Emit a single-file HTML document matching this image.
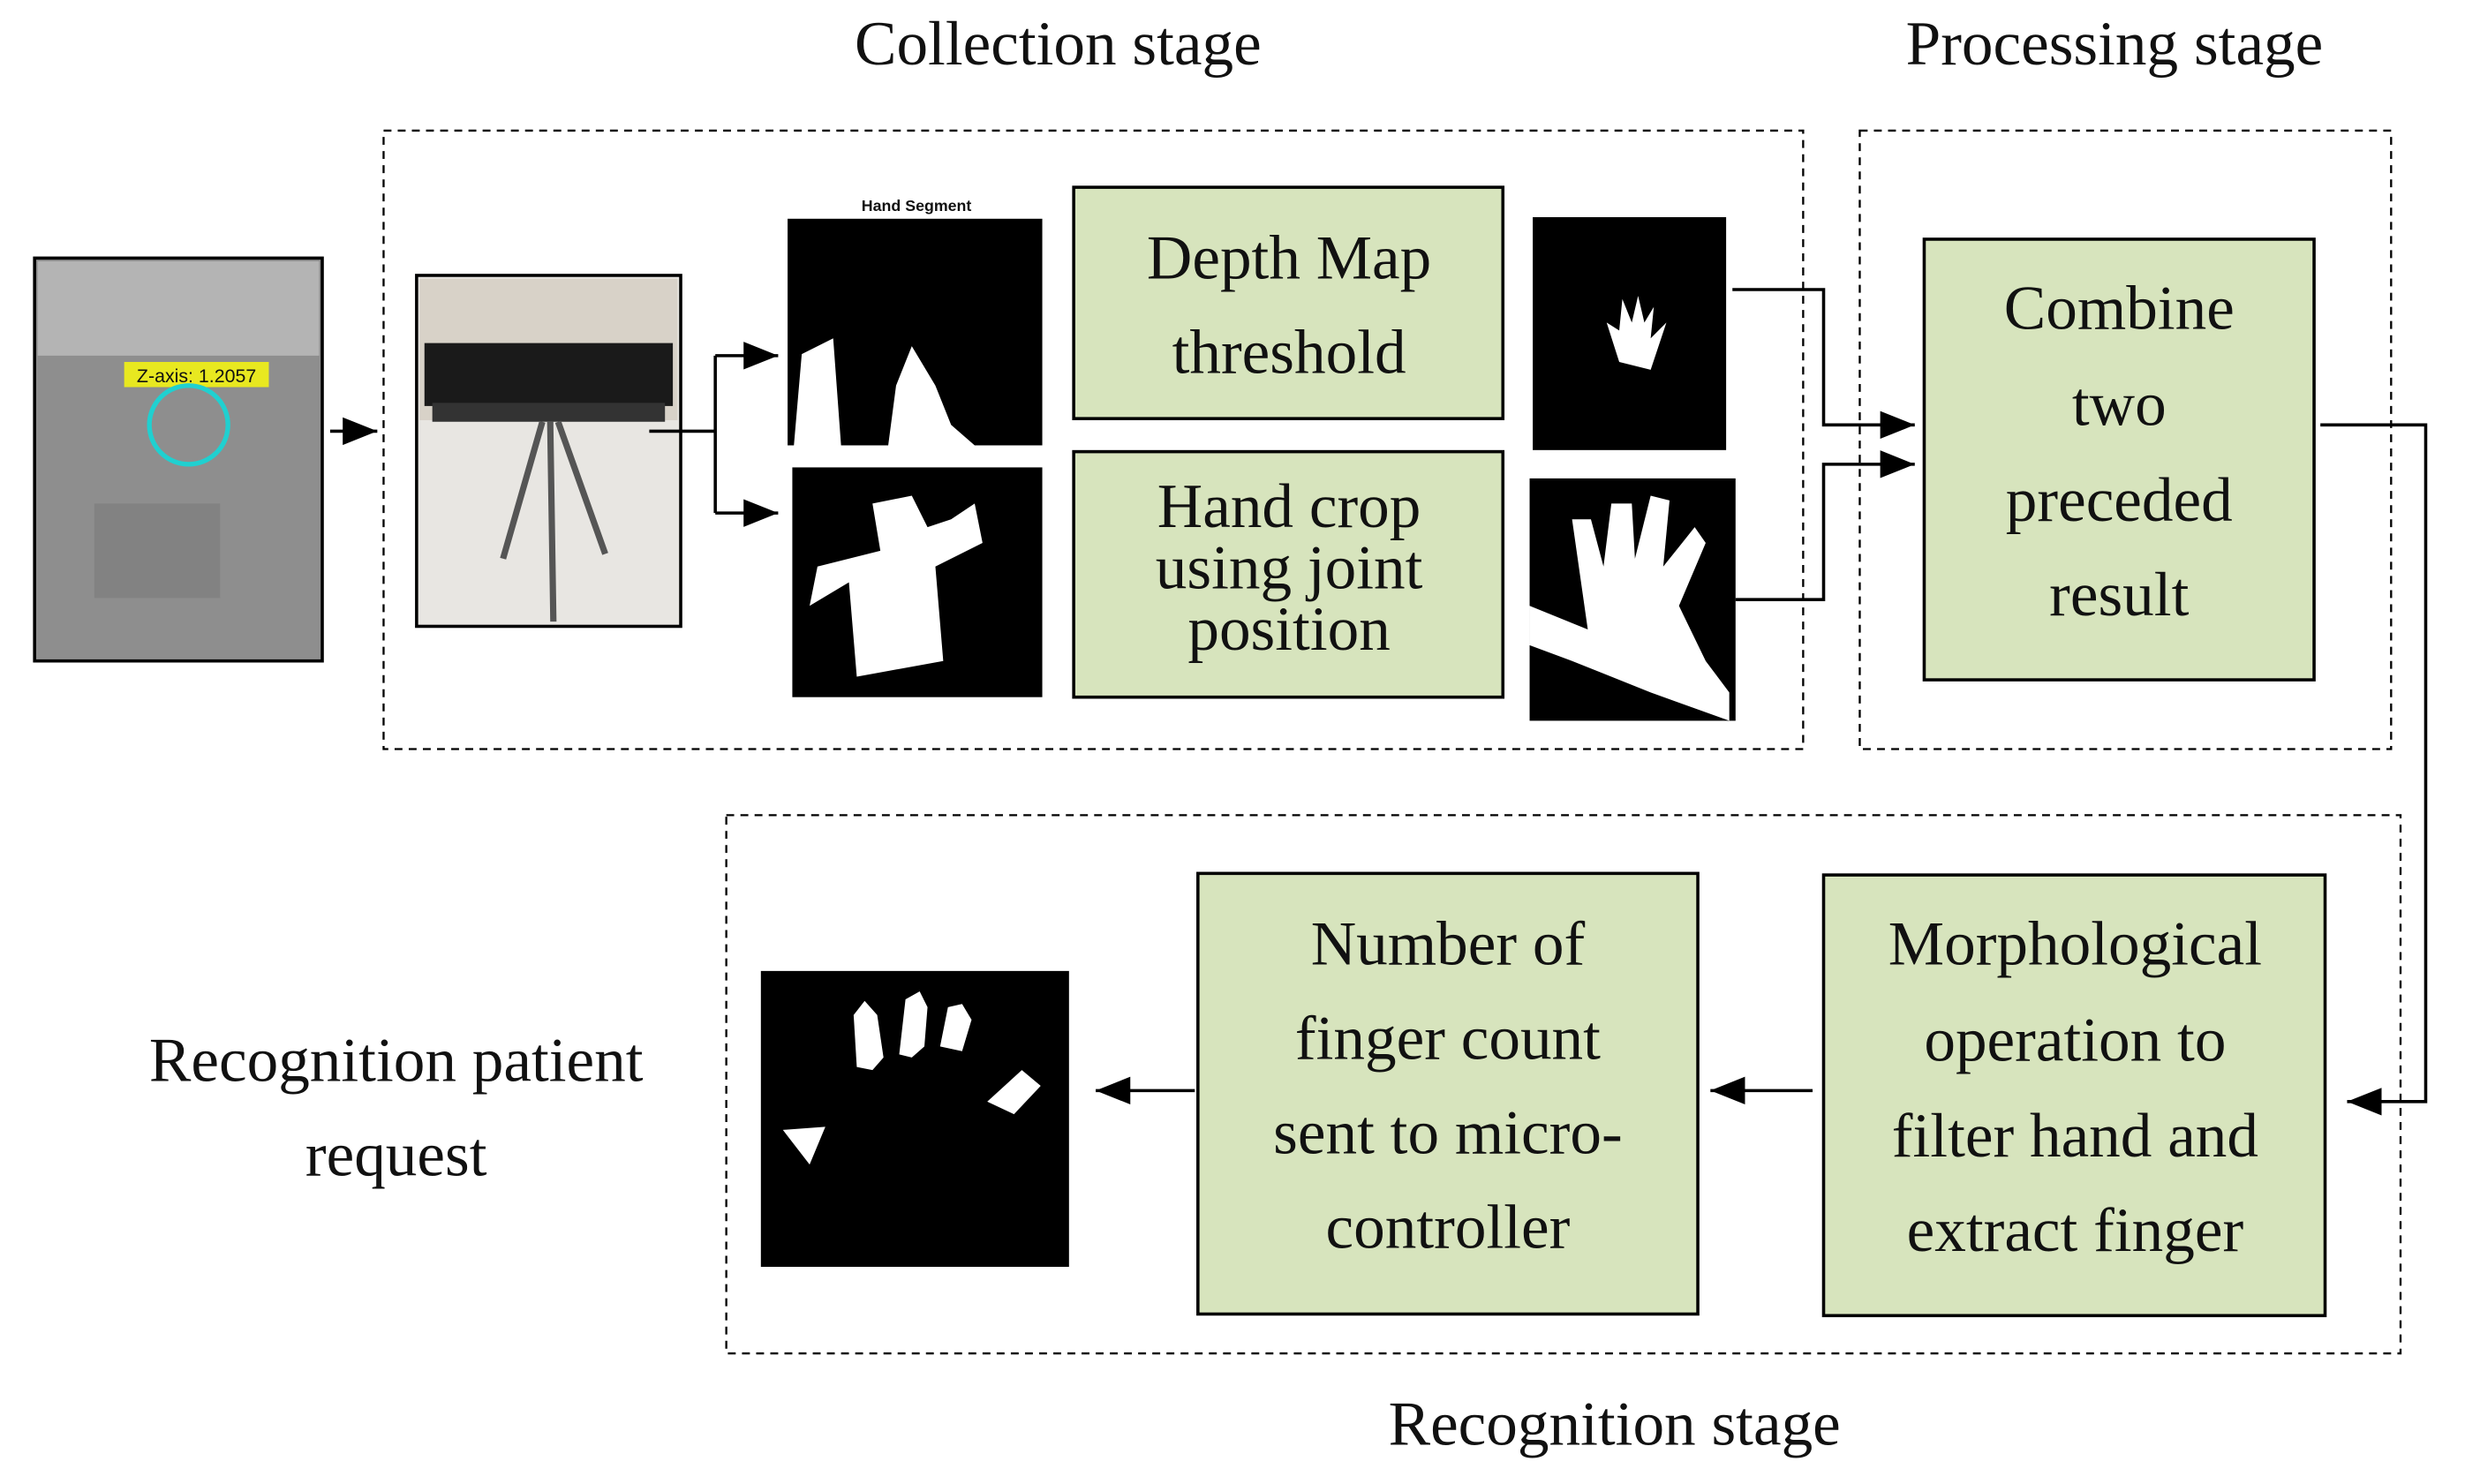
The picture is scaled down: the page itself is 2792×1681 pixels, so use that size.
<!DOCTYPE html>
<html><head><meta charset="utf-8"><style>
html,body{margin:0;padding:0;background:#fff;}
svg{display:block;}
text{font-family:"Liberation Serif",serif;fill:#111;}
</style></head><body>
<svg width="2792" height="1681" viewBox="0 0 1568 943" preserveAspectRatio="none" xmlns="http://www.w3.org/2000/svg">
<defs>
<marker id="ab" viewBox="0 0 10 10" refX="10" refY="5" markerWidth="22" markerHeight="22" orient="auto" markerUnits="userSpaceOnUse">
<path d="M0,1 L10,5 L0,9 z" fill="#000"/></marker>
</defs>
<g font-size="40" text-anchor="middle">
<text x="673" y="41">Collection stage</text>
<text x="1345" y="41">Processing stage</text>
<text x="1027" y="918">Recognition stage</text>
<text x="252" y="687">Recognition patient</text>
<text x="252" y="747">request</text>
</g>
<g fill="none" stroke="#000" stroke-width="1.3" stroke-dasharray="5,4">
<rect x="244" y="83" width="903" height="393"/>
<rect x="1183" y="83" width="338" height="393"/>
<rect x="462" y="518" width="1065" height="342"/>
</g>
<rect x="22" y="164" width="183" height="256" fill="#8e8e8e" stroke="#000" stroke-width="2"/>
<rect x="24" y="166" width="179" height="60" fill="#b4b4b4"/>
<rect x="60" y="320" width="80" height="60" fill="#7a7a7a" opacity="0.6"/>
<rect x="79" y="230" width="92" height="16" fill="#e8e820"/>
<text x="125" y="243" font-size="12" text-anchor="middle" style="font-family:'Liberation Sans',sans-serif">Z-axis: 1.2057</text>
<circle cx="120" cy="270" r="25" fill="none" stroke="#20d0d0" stroke-width="3"/>
<line x1="210" y1="274" x2="240" y2="274" stroke="#000" stroke-width="2" marker-end="url(#ab)"/>
<rect x="265" y="175" width="168" height="223" fill="#e8e6e2" stroke="#000" stroke-width="2"/>
<rect x="267" y="177" width="164" height="90" fill="#d8d2c8"/>
<rect x="270" y="218" width="158" height="40" fill="#1a1a1a"/>
<rect x="275" y="256" width="148" height="12" fill="#333"/>
<path d="M345 268 L320 355 M350 268 L352 395 M355 268 L385 352" stroke="#555" stroke-width="4"/>
<line x1="413" y1="274" x2="455" y2="274" stroke="#000" stroke-width="2"/>
<line x1="455" y1="226" x2="455" y2="326" stroke="#000" stroke-width="2"/>
<line x1="455" y1="226" x2="495" y2="226" stroke="#000" stroke-width="2" marker-end="url(#ab)"/>
<line x1="455" y1="326" x2="495" y2="326" stroke="#000" stroke-width="2" marker-end="url(#ab)"/>
<text x="583" y="134" font-size="10" text-anchor="middle" style="font-family:'Liberation Sans',sans-serif;font-weight:bold">Hand Segment</text>
<rect x="501" y="139" width="162" height="144" fill="#000"/>
<path d="M505 283 L510 225 L530 215 L535 283 Z M565 283 L570 245 L580 220 L595 245 L605 270 L620 283 Z" fill="#fff"/>
<rect x="504" y="297" width="159" height="146" fill="#000"/>
<path d="M545 430 L540 370 L515 385 L520 360 L560 350 L555 320 L580 315 L590 335 L605 330 L620 320 L625 345 L595 360 L600 420 Z" fill="#fff"/>
<g fill="#d7e4bd" stroke="#000" stroke-width="2">
<rect x="683" y="119" width="273" height="147"/>
<rect x="683" y="287" width="273" height="156"/>
<rect x="1224" y="152" width="248" height="280"/>
<rect x="1160" y="556" width="319" height="280"/>
<rect x="762" y="555" width="318" height="280"/>
</g>
<g font-size="40" text-anchor="middle">
<text x="820" y="177">Depth Map</text>
<text x="820" y="237">threshold</text>
<text x="820" y="335">Hand crop</text>
<text x="820" y="374">using joint</text>
<text x="820" y="413">position</text>
<text x="1348" y="209">Combine</text>
<text x="1348" y="270">two</text>
<text x="1348" y="331">preceded</text>
<text x="1348" y="391">result</text>
<text x="1320" y="613">Morphological</text>
<text x="1320" y="674">operation to</text>
<text x="1320" y="735">filter hand and</text>
<text x="1320" y="795">extract finger</text>
<text x="921" y="613">Number of</text>
<text x="921" y="673">finger count</text>
<text x="921" y="733">sent to micro-</text>
<text x="921" y="793">controller</text>
</g>
<rect x="975" y="138" width="123" height="148" fill="#000"/>
<path d="M1030 230 L1022 205 L1030 210 L1032 190 L1038 205 L1042 188 L1046 205 L1052 195 L1050 215 L1060 205 L1050 235 Z" fill="#fff"/>
<rect x="973" y="304" width="131" height="154" fill="#000"/>
<path d="M973 385 L1010 400 L1000 330 L1012 330 L1020 360 L1025 320 L1038 320 L1040 355 L1050 315 L1062 318 L1058 360 L1078 335 L1085 345 L1068 385 L1085 420 L1100 440 L1100 458 L1050 440 L1000 420 L973 410 Z" fill="#fff"/>
<path d="M1102 184 L1160 184 L1160 270 L1218 270" fill="none" stroke="#000" stroke-width="2" marker-end="url(#ab)"/>
<path d="M1104 381 L1160 381 L1160 295 L1218 295" fill="none" stroke="#000" stroke-width="2" marker-end="url(#ab)"/>
<path d="M1476 270 L1543 270 L1543 700 L1493 700" fill="none" stroke="#000" stroke-width="2" marker-end="url(#ab)"/>
<line x1="1153" y1="693" x2="1088" y2="693" stroke="#000" stroke-width="2" marker-end="url(#ab)"/>
<line x1="760" y1="693" x2="697" y2="693" stroke="#000" stroke-width="2" marker-end="url(#ab)"/>
<rect x="484" y="617" width="196" height="188" fill="#000"/>
<g fill="#fff">
<path d="M545 678 L543 645 L550 636 L558 645 L562 672 L555 680 Z"/>
<path d="M572 670 L576 635 L585 630 L590 640 L588 665 L580 672 Z"/>
<path d="M598 665 L603 640 L612 638 L618 648 L612 668 Z"/>
<path d="M628 700 L650 680 L662 690 L645 708 Z"/>
<path d="M498 718 L525 716 L515 740 Z"/>
</g>
</svg>
</body></html>
